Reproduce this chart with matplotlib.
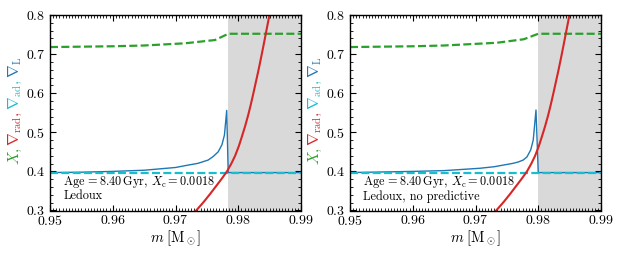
import matplotlib
matplotlib.use('Agg')
import matplotlib.pyplot as plt
from matplotlib.ticker import MultipleLocator

plt.rcParams['font.family'] = 'serif'
plt.rcParams['font.serif'] = ['cmr10']
plt.rcParams['mathtext.fontset'] = 'cm'
plt.rcParams['axes.formatter.use_mathtext'] = True
plt.rcParams['font.size'] = 10

# nabla_rad, same in both runs
rad_m = [0.9715, 0.9733, 0.9745, 0.9755, 0.9765, 0.9774, 0.9782, 0.9789, 0.9795, 0.9801, 0.9806,
         0.9811, 0.9816, 0.9820, 0.9824, 0.9828, 0.9832, 0.9836, 0.9840, 0.9844, 0.9848, 0.9852, 0.9856]
rad_v = [0.278, 0.300, 0.322, 0.342, 0.363, 0.382, 0.400, 0.420, 0.440, 0.465, 0.490,
         0.516, 0.545, 0.571, 0.599, 0.628, 0.657, 0.688, 0.720, 0.753, 0.786, 0.820, 0.855]

ad_m = [0.95, 0.99]
ad_v = [0.397, 0.397]

# panel 1: Ledoux
L1_m = [0.950, 0.955, 0.960, 0.965, 0.9700, 0.9715, 0.9736, 0.9752, 0.9760, 0.9768, 0.9774, 0.9778, 0.97816, 0.9784, 0.990]
L1_v = [0.397, 0.398, 0.400, 0.403, 0.410, 0.4146, 0.4207, 0.429, 0.438, 0.450, 0.468, 0.493, 0.556, 0.397, 0.397]
X1_m = [0.950, 0.960, 0.965, 0.9715, 0.9763, 0.97842, 0.990]
X1_v = [0.718, 0.720, 0.722, 0.7276, 0.736, 0.752, 0.752]
conv1 = 0.97842

# panel 2: Ledoux, no predictive
L2_m = [0.950, 0.960, 0.965, 0.9707, 0.9730, 0.9760, 0.9768, 0.9776, 0.9782, 0.9788, 0.9792, 0.97964, 0.9800, 0.990]
L2_v = [0.397, 0.400, 0.402, 0.408, 0.412, 0.4207, 0.424, 0.429, 0.437, 0.455, 0.480, 0.557, 0.397, 0.397]
X2_m = [0.950, 0.960, 0.965, 0.9734, 0.9777, 0.9800, 0.990]
X2_v = [0.718, 0.720, 0.722, 0.729, 0.738, 0.752, 0.752]
conv2 = 0.9800

labels = ['Ledoux', 'Ledoux, no predictive']
info = r'Age$\,=8.40\,$Gyr, $X_{\rm c}=0.0018$'

green = '#2ca02c'
red = '#d62728'
cyan = '#17becf'
blue = '#1f77b4'

fig = plt.figure(figsize=(6.23, 2.57), dpi=100)
ax1 = fig.add_axes([50/623, 1-210.5/257, 251/623, 195.5/257])
ax2 = fig.add_axes([350/623, 1-210.5/257, 251/623, 195.5/257])

panels = [(ax1, L1_m, L1_v, X1_m, X1_v, conv1), (ax2, L2_m, L2_v, X2_m, X2_v, conv2)]
for i, (ax, Lm, Lv, Xm, Xv, cb) in enumerate(panels):
    ax.axvspan(cb, 0.99, color='#d9d9d9', lw=0, zorder=0)
    ax.plot(Xm, Xv, color=green, lw=1.6, ls=(0, (3.6, 1.5)))
    ax.plot(Lm, Lv, color=blue, lw=1.0)
    ax.plot(ad_m, ad_v, color=cyan, lw=1.6, ls=(0, (3.6, 1.5)))
    ax.plot(rad_m, rad_v, color=red, lw=1.5)
    ax.set_xlim(0.95, 0.99)
    ax.set_ylim(0.3, 0.8)
    ax.xaxis.set_major_locator(MultipleLocator(0.01))
    ax.xaxis.set_minor_locator(MultipleLocator(0.0005))
    ax.yaxis.set_major_locator(MultipleLocator(0.1))
    ax.yaxis.set_minor_locator(MultipleLocator(0.02))
    ax.tick_params(which='both', direction='in', top=True, right=True, labelsize=10)
    ax.tick_params(which='major', length=4.3, width=0.8)
    ax.tick_params(which='minor', length=2.3, width=0.6)
    ax.tick_params(axis='x', pad=2.5)
    for s in ax.spines.values():
        s.set_linewidth(1.0)
    ax.set_xlabel(r'$m\;[\mathrm{M}_\odot]$', fontsize=10.5, labelpad=0)
    ax.text(0.9521, 0.374, info, fontsize=8.8, va='center', ha='left')
    ax.text(0.9521, 0.336, labels[i], fontsize=8.8, va='center', ha='left')

# multicoloured y labels
pieces = [(r'$X$, ', green), (r'$\nabla_{\rm rad}$, ', red), (r'$\nabla_{\rm ad}$, ', cyan), (r'$\nabla_{\rm L}$', blue)]
fig.canvas.draw()
rend = fig.canvas.get_renderer()
for xc in [15, 315]:
    txts = [fig.text(0, 0, p, color=c, rotation=90, fontsize=11, ha='center', va='bottom') for p, c in pieces]
    hs = [t.get_window_extent(rend).height for t in txts]
    total = sum(hs)
    y0 = (257 - 111) - total / 2
    for t, h in zip(txts, hs):
        t.set_position((xc / 623, y0 / 257))
        y0 += h

fig.savefig('out.png', dpi=100)
